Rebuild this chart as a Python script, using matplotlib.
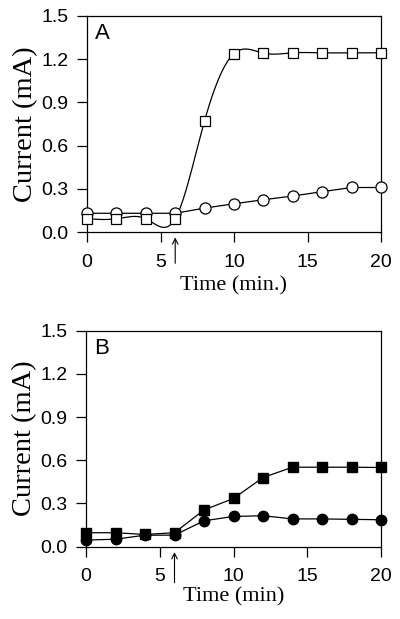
import numpy as np
import matplotlib
matplotlib.use("Agg")
import matplotlib.pyplot as plt

# ---- data ----
time = [0, 2, 4, 6, 8, 10, 12, 14, 16, 18, 20]

a_squares = [0.092, 0.092, 0.092, 0.092, 0.773, 1.239, 1.242, 1.244, 1.244, 1.244, 1.244]
a_circles = [0.13, 0.13, 0.13, 0.13, 0.166, 0.196, 0.224, 0.25, 0.28, 0.309, 0.309]

b_squares = [0.097, 0.097, 0.085, 0.097, 0.255, 0.335, 0.48, 0.552, 0.552, 0.552, 0.55]
b_circles = [0.046, 0.052, 0.08, 0.08, 0.18, 0.21, 0.215, 0.193, 0.193, 0.19, 0.187]

y_ticks = [0.0, 0.3, 0.6, 0.9, 1.2, 1.5]
x_ticks = [0, 5, 10, 15, 20]
arrow_time = 6


def natural_spline(x, y, n=400):
    # natural cubic spline, used only to draw the smooth connecting line
    x = np.asarray(x, float)
    y = np.asarray(y, float)
    k = len(x)
    h = np.diff(x)
    A = np.zeros((k, k))
    r = np.zeros(k)
    A[0, 0] = A[-1, -1] = 1
    for i in range(1, k - 1):
        A[i, i - 1] = h[i - 1]
        A[i, i] = 2 * (h[i - 1] + h[i])
        A[i, i + 1] = h[i]
        r[i] = 6 * ((y[i + 1] - y[i]) / h[i] - (y[i] - y[i - 1]) / h[i - 1])
    M = np.linalg.solve(A, r)
    xs = np.linspace(x[0], x[-1], n)
    idx = np.clip(np.searchsorted(x, xs) - 1, 0, k - 2)
    x0, x1 = x[idx], x[idx + 1]
    hh = x1 - x0
    t0, t1 = x1 - xs, xs - x0
    ys = (M[idx] * t0 ** 3 + M[idx + 1] * t1 ** 3) / (6 * hh) \
        + (y[idx] / hh - M[idx] * hh / 6) * t0 \
        + (y[idx + 1] / hh - M[idx + 1] * hh / 6) * t1
    return xs, ys


tick_font = {"family": "Liberation Sans", "size": 14}
label_font = {"family": "Liberation Serif", "size": 16}


def style_axis(ax, letter, xlabel, arrow_tail, xlabelpad):
    ax.set_xlim(0, 20)
    ax.set_ylim(0, 1.5)
    ax.set_xticks(x_ticks)
    ax.set_yticks(y_ticks)
    ax.set_xticklabels([str(t) for t in x_ticks], fontdict=tick_font)
    ax.set_yticklabels(["%.1f" % t for t in y_ticks], fontdict=tick_font)
    ax.tick_params(direction="out", length=7, width=0.9, top=False, right=False)
    ax.tick_params(axis="x", pad=8.5)
    ax.tick_params(axis="y", pad=6.5)
    for s in ax.spines.values():
        s.set_linewidth(0.9)
    ax.set_xlabel(xlabel, fontdict=label_font, labelpad=xlabelpad)
    ax.set_ylabel("Current (mA)", family="Liberation Serif", size=20.5, labelpad=2)
    ax.text(0.027, 0.968, letter, transform=ax.transAxes, ha="left", va="top",
            family="Liberation Sans", size=16)
    ax.annotate("", xy=(arrow_time, -0.025), xycoords=("data", "axes fraction"),
                xytext=(arrow_time, arrow_tail), textcoords=("data", "axes fraction"),
                arrowprops=dict(arrowstyle="->", lw=0.8, color="black",
                                shrinkA=0, shrinkB=0, mutation_scale=10),
                annotation_clip=False)


fig = plt.figure(figsize=(4.0, 6.19), dpi=100)

# ---- panel A ----
ax1 = fig.add_axes([0.2175, 0.6252, 0.735, 0.349])
sx, sy = natural_spline(time, a_squares)
ax1.plot(sx, sy, color="black", lw=0.9, zorder=2)
ax1.plot(time, a_circles, color="black", lw=0.9, zorder=2)
ax1.plot(time, a_circles, "o", ms=8, mfc="white", mec="black", mew=0.9,
         zorder=3, clip_on=False)
ax1.plot(time, a_squares, "s", ms=7.5, mfc="white", mec="black", mew=0.9,
         zorder=4, clip_on=False)
style_axis(ax1, "A", "Time (min.)", -0.145, 4)

# ---- panel B ----
ax2 = fig.add_axes([0.215, 0.1168, 0.7375, 0.349])
ax2.plot(time, b_squares, "-s", color="black", lw=0.9, ms=6.5,
         mfc="black", mec="black", zorder=3, clip_on=False)
ax2.plot(time, b_circles, "-o", color="black", lw=0.9, ms=7.5,
         mfc="black", mec="black", zorder=3, clip_on=False)
style_axis(ax2, "B", "Time (min)", -0.167, 1.5)

fig.savefig("out.png", dpi=100)
